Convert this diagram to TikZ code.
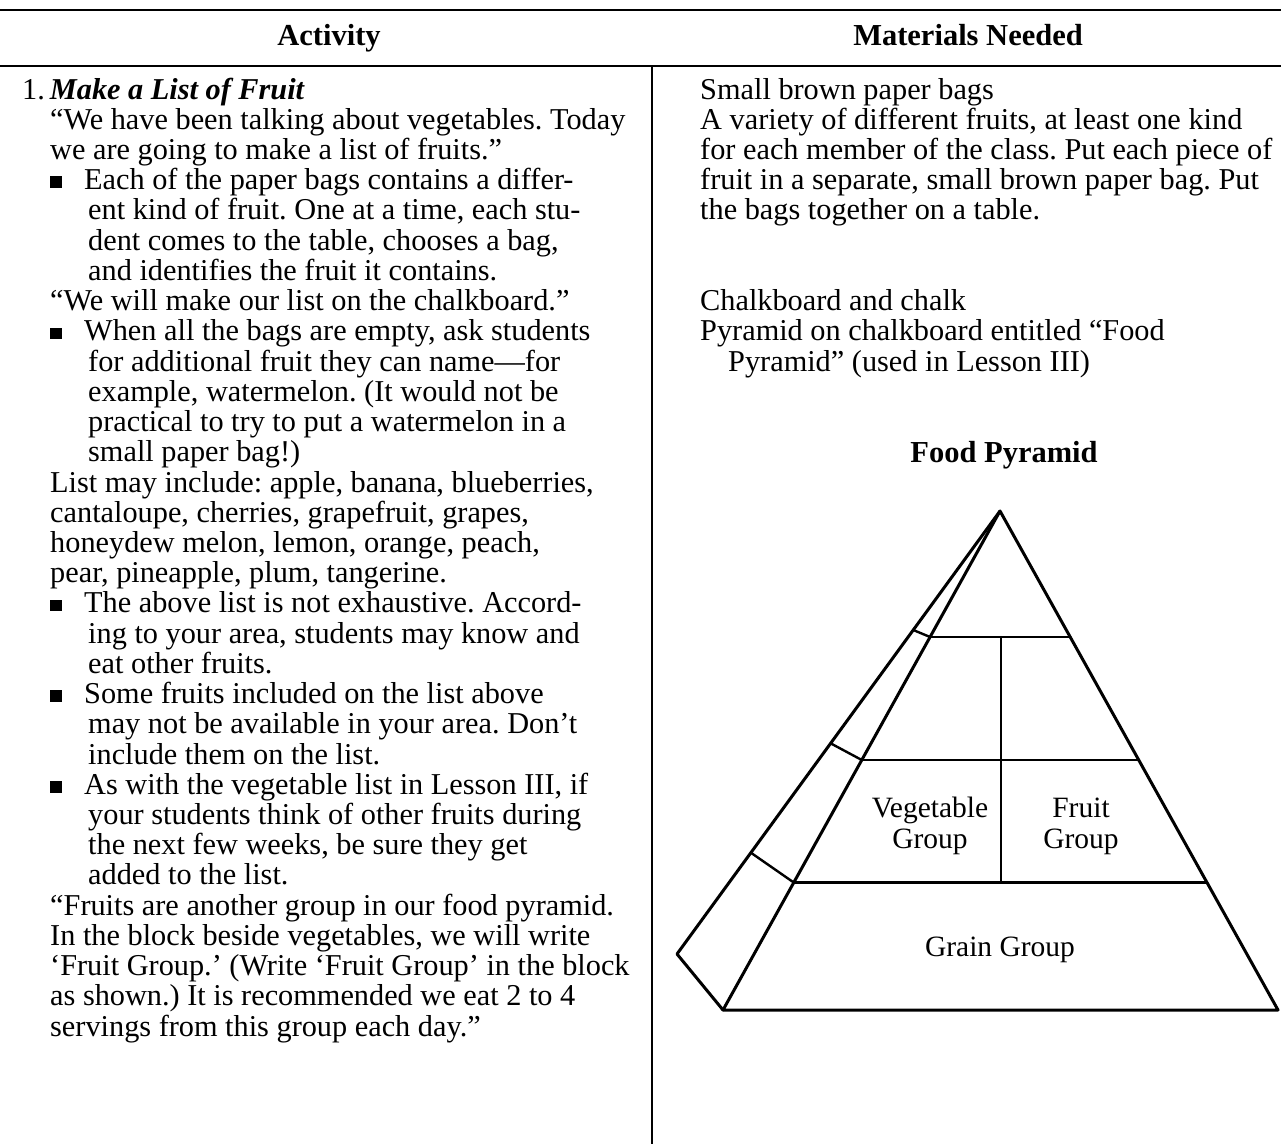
\documentclass[tikz,border=0pt]{standalone}
\usepackage{fontspec}
\setmainfont{Liberation Serif}
\usetikzlibrary{calc}
\begin{document}
\frenchspacing
\begin{tikzpicture}[x=1pt,y=-1pt,
  txt/.style={anchor=base west,inner sep=0pt,font=\fontsize{30.3}{30}\selectfont},
  head/.style={anchor=base,inner sep=0pt,font=\fontsize{30.5}{30}\selectfont\bfseries},
  lbl/.style={anchor=base,inner sep=0pt,font=\fontsize{29.5}{30}\selectfont},
  bul/.style={fill=black,inner sep=0pt,minimum size=11.5pt,rectangle},
  rule/.style={line width=2.2pt},
  pyr/.style={line width=3pt,line join=round,line cap=round},
  thin/.style={line width=2.4pt,line cap=round}]
\useasboundingbox[fill=white] (0,0) rectangle (1281,1144);
% header rules
\coordinate (tl) at (0,10);
\coordinate (tr) at (1281,10);
\coordinate (ml) at (0,66);
\coordinate (mr) at (1281,66);
\coordinate (dtop) at (652,66);
\coordinate (dbot) at (652,1144);
\draw[rule] (tl) -- (tr);
\draw[rule] (ml) -- (mr);
\draw[line width=1.6pt] (dtop) -- (dbot);
\node[head] (h1) at (329,45) {Activity};
\node[head] (h2) at (968,45) {Materials Needed};
% left column
\foreach \n/\x/\t in {
 0/22/{1.\kern5pt\textbf{\textit{Make a List of Fruit}}},
 1/50/{“We have been talking about vegetables. Today},
 2/50/{we are going to make a list of fruits.”},
 3/84/{Each of the paper bags contains a differ-},
 4/88/{ent kind of fruit. One at a time, each stu-},
 5/88/{dent comes to the table, chooses a bag,},
 6/88/{and identifies the fruit it contains.},
 7/50/{“We will make our list on the chalkboard.”},
 8/84/{When all the bags are empty, ask students},
 9/88/{for additional fruit they can name—for},
 10/88/{example, watermelon. (It would not be},
 11/88/{practical to try to put a watermelon in a},
 12/88/{small paper bag!)},
 13/50/{List may include: apple, banana, blueberries,},
 14/50/{cantaloupe, cherries, grapefruit, grapes,},
 15/50/{honeydew melon, lemon, orange, peach,},
 16/50/{pear, pineapple, plum, tangerine.},
 17/84/{The above list is not exhaustive. Accord-},
 18/88/{ing to your area, students may know and},
 19/88/{eat other fruits.},
 20/84/{Some fruits included on the list above},
 21/88/{may not be available in your area. Don’t},
 22/88/{include them on the list.},
 23/84/{As with the vegetable list in Lesson III, if},
 24/88/{your students think of other fruits during},
 25/88/{the next few weeks, be sure they get},
 26/88/{added to the list.},
 27/50/{“Fruits are another group in our food pyramid.},
 28/50/{In the block beside vegetables, we will write},
 29/50/{‘Fruit Group.’ (Write ‘Fruit Group’ in the block},
 30/50/{as shown.) It is recommended we eat 2 to 4},
 31/50/{servings from this group each day.”}}
 {\node[txt] (L\n) at (\x,{99+30.23*\n}) {\t};}
\foreach \n in {3,8,17,20,23}
 {\node[bul] (B\n) at (56,{99+30.23*\n-7.5}) {};}
% right column
\foreach \n/\x/\t in {
 0/700/{Small brown paper bags},
 1/700/{A variety of different fruits, at least one kind},
 2/700/{for each member of the class. Put each piece of},
 3/700/{fruit in a separate, small brown paper bag. Put},
 4/700/{the bags together on a table.},
 7/700/{Chalkboard and chalk},
 8/700/{Pyramid on chalkboard entitled “Food},
 9/728/{Pyramid” (used in Lesson III)}}
 {\node[txt] (R\n) at (\x,{99+30.23*\n}) {\t};}
\node[head] (fp) at (1004,462) {Food Pyramid};
% pyramid
\coordinate (A) at (1000,511);
\coordinate (BL) at (723,1010);
\coordinate (BR) at (1278,1010);
\coordinate (K) at (677,954);
\coordinate (I1) at ($(A)!0.2525!(BL)$);
\coordinate (I2) at ($(A)!0.4990!(BL)$);
\coordinate (I3) at ($(A)!0.7445!(BL)$);
\coordinate (E1) at ($(A)!0.2525!(BR)$);
\coordinate (E2) at ($(A)!0.4990!(BR)$);
\coordinate (E3) at ($(A)!0.7445!(BR)$);
\coordinate (O1) at ($(A)!0.2686!(K)$);
\coordinate (O2) at ($(A)!0.5244!(K)$);
\coordinate (O3) at ($(A)!0.7713!(K)$);
\coordinate (Dt) at (1001,637);
\coordinate (Db) at (1001,882.5);
\draw[pyr] (A) -- (BR) -- (BL) -- (A);
\draw[pyr] (A) -- (K) -- (BL);
\draw[thin] (I1) -- (E1);
\draw[thin] (I2) -- (E2);
\draw[pyr] (I3) -- (E3);
\draw[thin] (O1) -- (I1);
\draw[thin] (O2) -- (I2);
\draw[thin] (O3) -- (I3);
\draw[thin] (Dt) -- (Db);
\node[lbl] (v1) at (930,817) {Vegetable};
\node[lbl] (v2) at (930,848) {Group};
\node[lbl] (f1) at (1081,817) {Fruit};
\node[lbl] (f2) at (1081,848) {Group};
\node[lbl] (g) at (1000,956) {Grain Group};
\end{tikzpicture}
\end{document}
